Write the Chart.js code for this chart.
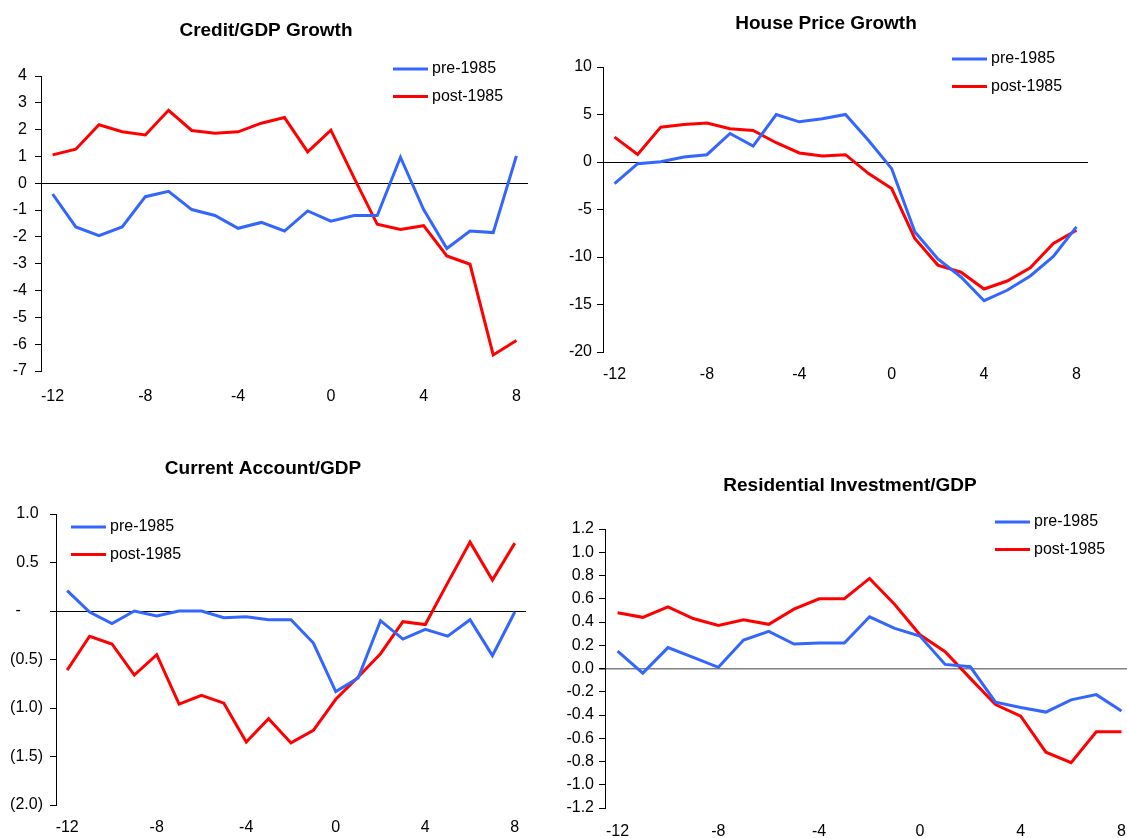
<!DOCTYPE html>
<html>
<head>
<meta charset="utf-8">
<script src="https://cdn.jsdelivr.net/npm/chart.js@4.4.1/dist/chart.umd.min.js"></script>
<style>
  html, body { margin: 0; padding: 0; background: #fff; overflow: hidden; }
  body { width: 1127px; height: 838px; position: relative; }
  canvas { position: absolute; }
</style>
</head>
<body>
<canvas id="credit" width="560" height="418" style="left:0;top:0"></canvas>
<canvas id="house" width="567" height="418" style="left:560px;top:0"></canvas>
<canvas id="account" width="560" height="418" style="left:0;top:420px"></canvas>
<canvas id="resinv" width="580" height="418" style="left:560px;top:420px"></canvas>
<script>
// quarters relative to the event (x axis)
const quarters = [-12, -11, -10, -9, -8, -7, -6, -5, -4, -3, -2, -1, 0, 1, 2, 3, 4, 5, 6, 7, 8];
const xTickValues = [-12, -8, -4, 0, 4, 8];
const seriesLabels = ['pre-1985', 'post-1985'];

const creditPre = [-0.4, -1.63, -1.95, -1.63, -0.5, -0.3, -0.98, -1.2, -1.68, -1.46, -1.78, -1.03, -1.41, -1.2, -1.2, 0.97, -0.98, -2.43, -1.78, -1.84, 1.02];
const creditPost = [1.06, 1.27, 2.18, 1.92, 1.8, 2.72, 1.97, 1.87, 1.92, 2.24, 2.45, 1.17, 1.98, 0.2, -1.53, -1.72, -1.58, -2.71, -3.02, -6.4, -5.86];

const housePre = [-2.28, -0.18, 0.02, 0.52, 0.77, 3.0, 1.68, 5.0, 4.23, 4.55, 5.0, 2.27, -0.7, -7.35, -10.2, -12.1, -14.6, -13.5, -12.0, -9.94, -6.83];
const housePost = [2.62, 0.8, 3.67, 3.95, 4.1, 3.5, 3.32, 2.03, 0.95, 0.63, 0.77, -1.22, -2.8, -8.05, -10.85, -11.6, -13.37, -12.53, -11.13, -8.58, -7.18];

const accountPre = [0.21, -0.01, -0.13, 0.0, -0.05, 0.0, 0.0, -0.07, -0.06, -0.09, -0.09, -0.33, -0.83, -0.69, -0.1, -0.29, -0.19, -0.26, -0.09, -0.46, -0.01];
const accountPost = [-0.61, -0.26, -0.34, -0.66, -0.45, -0.96, -0.87, -0.95, -1.35, -1.11, -1.36, -1.23, -0.91, -0.68, -0.44, -0.11, -0.14, 0.29, 0.71, 0.32, 0.7];

const resInvPre = [0.15, -0.04, 0.18, 0.095, 0.01, 0.245, 0.32, 0.21, 0.22, 0.22, 0.445, 0.345, 0.28, 0.035, 0.015, -0.29, -0.335, -0.375, -0.27, -0.225, -0.365];
const resInvPost = [0.48, 0.44, 0.53, 0.43, 0.37, 0.42, 0.38, 0.51, 0.6, 0.6, 0.775, 0.55, 0.29, 0.145, -0.085, -0.31, -0.41, -0.72, -0.81, -0.545, -0.545];

const FONT = '"Liberation Sans", Arial, sans-serif';
const BLUE = '#3366ff';
const RED = '#ff0000';

// title + legend drawn on top of each panel
const panelDecor = {
  id: 'panelDecor',
  afterDraw(chart, args, opts) {
    const ctx = chart.ctx;
    ctx.save();
    ctx.fillStyle = '#000';
    ctx.textAlign = 'center';
    ctx.textBaseline = 'middle';
    ctx.font = 'bold 19px ' + FONT;
    ctx.fillText(opts.title, opts.titleX, opts.titleY);

    ctx.font = '16px ' + FONT;
    ctx.textAlign = 'left';
    chart.data.datasets.forEach((ds, i) => {
      const y = opts.legendY + i * 27.5;
      ctx.strokeStyle = ds.borderColor;
      ctx.lineWidth = 3;
      ctx.beginPath();
      ctx.moveTo(opts.legendX, y);
      ctx.lineTo(opts.legendX + 35, y);
      ctx.stroke();
      ctx.fillText(ds.label, opts.legendX + 39, y);
    });
    ctx.restore();
  }
};

function toPoints(values) {
  return quarters.map((q, i) => ({ x: q, y: values[i] }));
}

function makePanel(id, cfg) {
  const isZero = v => Math.abs(v) < 1e-9;
  new Chart(document.getElementById(id), {
    type: 'line',
    data: {
      datasets: [
        { label: seriesLabels[0], data: toPoints(cfg.pre), borderColor: BLUE, borderWidth: 3, pointRadius: 0, tension: 0 },
        { label: seriesLabels[1], data: toPoints(cfg.post), borderColor: RED, borderWidth: 3, pointRadius: 0, tension: 0 }
      ]
    },
    options: {
      responsive: false,
      animation: false,
      events: [],
      layout: { padding: { left: 0, right: cfg.padRight, top: cfg.top, bottom: 0 } },
      plugins: {
        legend: { display: false },
        tooltip: { enabled: false },
        panelDecor: cfg.decor
      },
      scales: {
        x: {
          type: 'linear',
          min: -12.5,
          max: 8.5,
          afterBuildTicks: axis => { axis.ticks = xTickValues.map(v => ({ value: v })); },
          afterFit: s => { s.height = cfg.xHeight; },
          grid: { display: false, drawTicks: false },
          border: { display: false },
          ticks: { padding: cfg.xPad, maxRotation: 0, autoSkip: false, color: '#000', font: { family: FONT, size: 16 } }
        },
        y: {
          min: cfg.yMin,
          max: cfg.yMax,
          afterFit: s => { s.width = cfg.axisLeft; },
          border: { display: true, color: '#000', width: 1 },
          grid: {
            drawOnChartArea: true,
            tickLength: 6,
            tickColor: '#000',
            color: c => (c.tick && isZero(c.tick.value)) ? cfg.zeroColor : 'rgba(0,0,0,0)',
            lineWidth: c => (c.tick && isZero(c.tick.value)) ? cfg.zeroWidth : 1
          },
          ticks: {
            stepSize: cfg.step,
            padding: cfg.yPad,
            color: '#000',
            font: { family: FONT, size: 16 },
            callback: cfg.fmt
          }
        }
      }
    },
    plugins: [panelDecor]
  });
}

makePanel('credit', {
  pre: creditPre, post: creditPost,
  yMin: -7, yMax: 4, step: 1,
  axisLeft: 41, padRight: 32, top: 76, xHeight: 47, xPad: 16, yPad: 8,
  zeroColor: '#000', zeroWidth: 1,
  fmt: v => String(Math.round(v)),
  decor: { title: 'Credit/GDP Growth', titleX: 266, titleY: 31, legendX: 393, legendY: 69 }
});

makePanel('house', {
  pre: housePre, post: housePost,
  yMin: -20, yMax: 10, step: 5,
  axisLeft: 43, padRight: 39, top: 67, xHeight: 66, xPad: 13, yPad: 5,
  zeroColor: '#000', zeroWidth: 1,
  fmt: v => String(Math.round(v)),
  decor: { title: 'House Price Growth', titleX: 266, titleY: 24, legendX: 392, legendY: 59 }
});

makePanel('account', {
  pre: accountPre, post: accountPost,
  yMin: -2, yMax: 1, step: 0.5,
  axisLeft: 56, padRight: 34, top: 94, xHeight: 33, xPad: 13, yPad: 7,
  zeroColor: '#000', zeroWidth: 1,
  fmt: v => Math.abs(v) < 1e-9 ? '-     ' : (v < 0 ? '(' + Math.abs(v).toFixed(1) + ')' : v.toFixed(1) + ' '),
  decor: { title: 'Current Account/GDP', titleX: 263, titleY: 49, legendX: 71, legendY: 107 }
});

makePanel('resinv', {
  pre: resInvPre, post: resInvPost,
  yMin: -1.2, yMax: 1.2, step: 0.2,
  axisLeft: 45, padRight: 3, top: 109, xHeight: 30, xPad: 14, yPad: 5,
  zeroColor: '#808080', zeroWidth: 1.5,
  fmt: v => (Math.abs(v) < 1e-9 ? 0 : v).toFixed(1),
  decor: { title: 'Residential Investment/GDP', titleX: 290, titleY: 66, legendX: 435, legendY: 102 }
});
</script>
</body>
</html>
